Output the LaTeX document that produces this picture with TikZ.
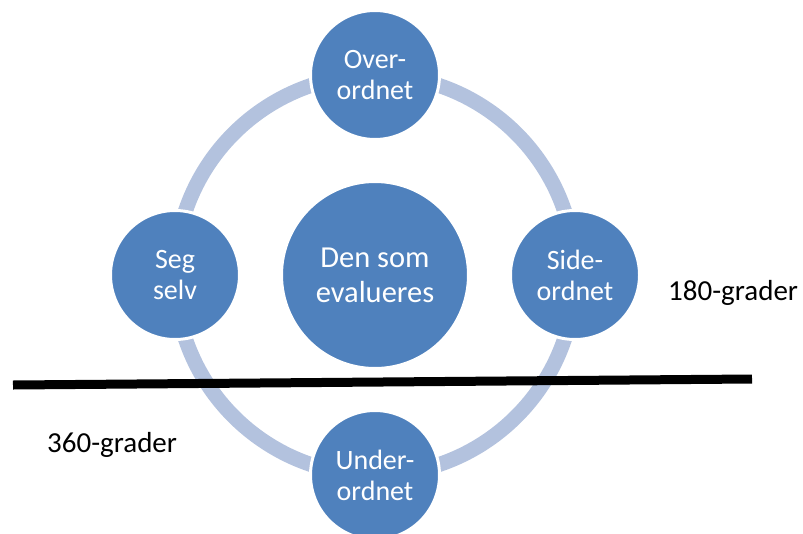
\documentclass[tikz,border=0pt]{standalone}
\usepackage{fontspec}
\setmainfont{Carlito}
\usetikzlibrary{calc}
\definecolor{ringblue}{RGB}{179,194,222}
\definecolor{discblue}{RGB}{79,129,189}

\begin{document}
\begin{tikzpicture}[x=1pt,y=-1pt,
        disc/.style={circle,fill=discblue,draw=white,line width=3pt,inner sep=0pt,minimum size=129pt,
            text=white,align=center,font=\fontsize{28}{31}\selectfont},
        ring/.style={draw=ringblue,line width=15pt}]
        \useasboundingbox (0,0) rectangle (803,533);
        \node (E) at (375,275) [disc,minimum size=187pt,font=\fontsize{30.5}{35}\selectfont] {Den som\\evalueres};
        \draw [ring] (E.center) circle (200pt);
        \node (O) at ($(E)+(0,-200)$) [disc] {Over-\\ordnet};
        \node (S) at ($(E)+(-200,0)$) [disc] {Seg\\selv};
        \node (R) at ($(E)+(200,0)$) [disc] {Side-\\ordnet};
        \node (U) at ($(E)+(0,200)$) [disc] {Under-\\ordnet};
        \coordinate (cutL) at (13,385);
        \coordinate (cutR) at (752,379);
        \draw [line width=9pt] (cutL) -- (cutR);
        \node (half) at (668,300) [anchor=base west,inner sep=0pt,font=\fontsize{29}{33}\selectfont] {180-grader};
        \node (full) at (47,452) [anchor=base west,inner sep=0pt,font=\fontsize{29}{33}\selectfont] {360-grader};
    \end{tikzpicture}
\end{document}
